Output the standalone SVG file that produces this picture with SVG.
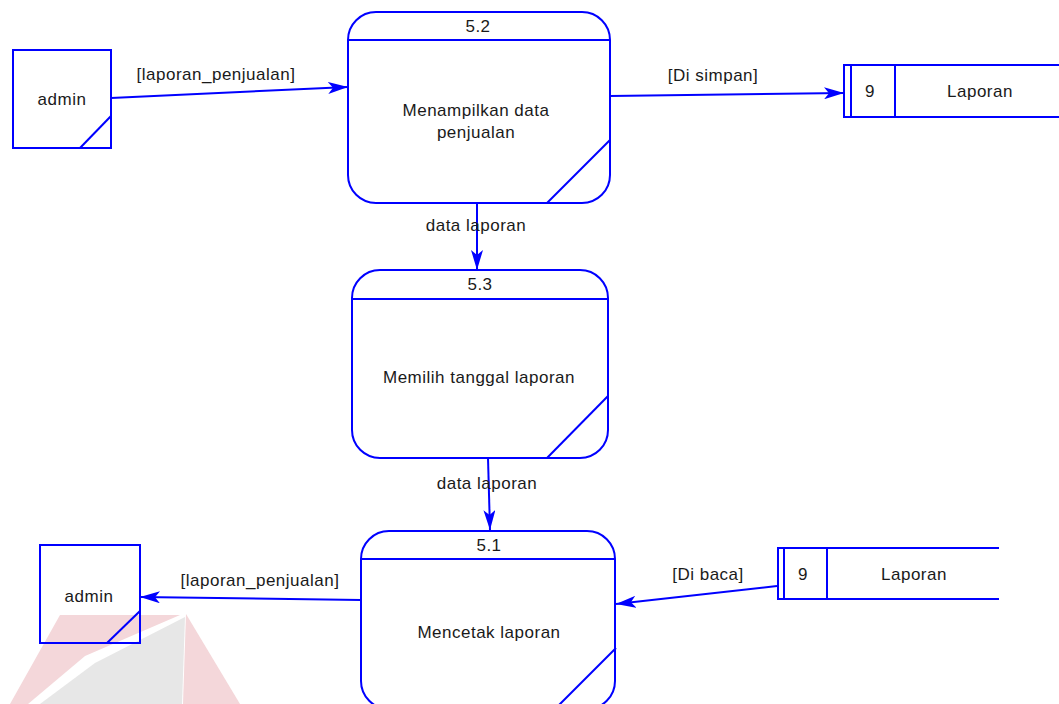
<svg xmlns="http://www.w3.org/2000/svg" width="1059" height="704" viewBox="0 0 1059 704">
<defs>
<style>
.s{fill:none;stroke:#0000ff;stroke-width:2}
.b{fill:#ffffff;stroke:#0000ff;stroke-width:2}
.t{font-family:"Liberation Sans",Arial,sans-serif;font-size:17px;letter-spacing:0.5px;fill:#1a1a1a;text-anchor:middle}
.c{fill:none;stroke:#0000ff;stroke-width:2}
</style>
<marker id="ah" markerUnits="userSpaceOnUse" viewBox="0 0 20 12" refX="20" refY="6" markerWidth="20" markerHeight="12" orient="auto">
<path d="M0,0 L20,6 L0,12 L5,6 z" fill="#0000ff"/>
</marker>
</defs>
<rect width="1059" height="704" fill="#ffffff"/>
<g id="watermark" opacity="0.9">
<polygon points="60,615 180,615 85,656 28,704 10,704" fill="#f3d3d6"/>
<polygon points="185,617 95,663 40,704 182,704" fill="#e5e5e5"/>
<polygon points="186,614 240,704 183,704" fill="#f3d3d6"/>
</g>
<g id="connectors">
<line class="c" x1="111" y1="98" x2="348" y2="87" marker-end="url(#ah)"/>
<text class="t" x="216" y="80">[laporan_penjualan]</text>
<line class="c" x1="610" y1="96" x2="844" y2="93" marker-end="url(#ah)"/>
<text class="t" x="713" y="81">[Di simpan]</text>
<line class="c" x1="477" y1="203" x2="477" y2="270" marker-end="url(#ah)"/>
<text class="t" x="476" y="231">data laporan</text>
<line class="c" x1="488" y1="458" x2="490" y2="530" marker-end="url(#ah)"/>
<text class="t" x="487" y="489">data laporan</text>
<line class="c" x1="361" y1="600" x2="140" y2="597" marker-end="url(#ah)"/>
<text class="t" x="260" y="586">[laporan_penjualan]</text>
<line class="c" x1="777" y1="586" x2="616" y2="604" marker-end="url(#ah)"/>
<text class="t" x="708" y="580">[Di baca]</text>
</g>
<g id="admin1">
<rect class="b" x="13" y="50" width="98" height="98"/>
<line class="s" x1="80" y1="148" x2="111" y2="116"/>
<text class="t" x="62" y="105">admin</text>
</g>
<g id="p52">
<rect class="b" x="348" y="12" width="262" height="191" rx="28"/>
<line class="s" x1="348" y1="40" x2="610" y2="40"/>
<line class="s" x1="547" y1="203" x2="610" y2="140"/>
<text class="t" x="478" y="32">5.2</text>
<text class="t" x="476" y="116">Menampilkan data</text>
<text class="t" x="476" y="138">penjualan</text>
</g>
<g id="store1">
<path class="s" d="M1059,65 L844,65 L844,117 L1059,117 M851,65 L851,117 M895,65 L895,117"/>
<text class="t" x="870" y="97">9</text>
<text class="t" x="980" y="97">Laporan</text>
</g>
<g id="p53">
<rect class="b" x="352" y="270" width="256" height="188" rx="28"/>
<line class="s" x1="352" y1="299" x2="608" y2="299"/>
<line class="s" x1="547" y1="458" x2="608" y2="396"/>
<text class="t" x="480" y="290">5.3</text>
<text class="t" x="479" y="383">Memilih tanggal laporan</text>
</g>
<g id="p51">
<rect class="b" x="361" y="531" width="254" height="178" rx="28"/>
<line class="s" x1="361" y1="559" x2="615" y2="559"/>
<line class="s" x1="558" y1="706" x2="616" y2="648"/>
<text class="t" x="489" y="551">5.1</text>
<text class="t" x="489" y="638">Mencetak laporan</text>
</g>
<g id="admin2">
<rect class="b" x="40" y="545" width="100" height="98" fill-opacity="0"/>
<line class="s" x1="107" y1="643" x2="140" y2="611"/>
<text class="t" x="89" y="602">admin</text>
</g>
<g id="store2">
<path class="s" d="M999,548 L778,548 L778,599 L999,599 M784,548 L784,599 M827,548 L827,599"/>
<text class="t" x="803" y="580">9</text>
<text class="t" x="914" y="580">Laporan</text>
</g>
</svg>
